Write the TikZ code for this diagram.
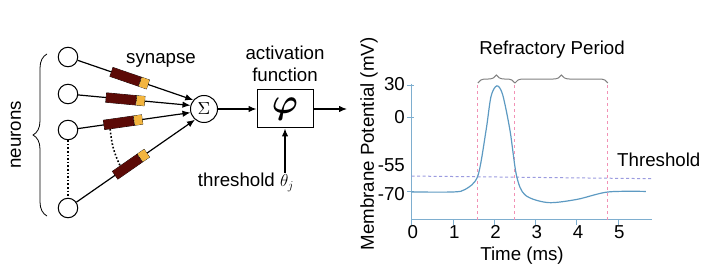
\documentclass[tikz,border=0pt]{standalone}
\usepackage{bm}
\usepackage{fontspec}
\setmainfont{Liberation Sans}
\usepackage{tikz}
\usetikzlibrary{arrows.meta,decorations.pathreplacing,calc}
\definecolor{synred}{HTML}{5C0A06}
\definecolor{synyel}{HTML}{F3B53F}
\definecolor{trace}{HTML}{5D9AC2}
\definecolor{axblue}{HTML}{7EAECF}
\definecolor{refr}{HTML}{F291B5}
\definecolor{thcol}{HTML}{9B9BDF}
\tikzset{lbl/.style={font=\fontsize{18.7}{22}\selectfont,inner sep=0pt},
  neuron/.style={circle,draw,line width=1pt,fill=white,minimum size=19.5pt,inner sep=0pt},
  wire/.style={line width=1.2pt,-{Latex[length=8pt,width=6.5pt]}},
  syn/.style={draw,line width=0.6pt,inner sep=0pt,sloped},
  dots/.style={line width=1.6pt,dotted},
  curly/.style={decorate,decoration={brace,amplitude=#1}},
  axline/.style={axblue,line width=1pt},
  refline/.style={refr,line width=1pt,dash pattern=on 3pt off 3pt}}
\newcommand{\synbox}{{\color{synred}\rule{30pt}{9.5pt}}{\color{black}\rule{0.6pt}{9.5pt}}{\color{synyel}\rule{8pt}{9.5pt}}}

\begin{document}
\begin{tikzpicture}[x=1pt,y=-1pt]
  \useasboundingbox (0,0) rectangle (703,275);
  \foreach \y [count=\i] in {57,94,130,208} \node[neuron] (n\i) at (68,\y) {};
  \node[circle,draw,line width=1pt,minimum size=27pt,inner sep=0pt] (sigma) at (204,109) {\scalebox{1.75}{$\Sigma$}};
  \node[draw,line width=1pt,minimum width=56pt,minimum height=38pt,inner sep=0pt] (box) at (285,109) {\scalebox{3.5}{$\bm{\varphi}$}};
  \foreach \i/\a/\p in {1/140/.45,2/165/.42,3/195/.40,4/230/.46}
    \draw[wire] (n\i) -- node[syn,pos=\p] (s\i) {\synbox} (sigma.\a);
  \draw[dots] (n3) -- (n4);
  \draw[dots] ($(s3.south west)!.15!(s3.south east)$) to[bend right=10] ($(s4.north west)!.25!(s4.north east)$);
  \draw[curly=14pt,line width=0.8pt] (47,216) -- (47,54);
  \node[lbl,rotate=90] (neurons) at (16,135) {neurons};
  \node[lbl,anchor=base] (synlbl) at (161,63.3) {synapse};
  \node[lbl,align=center,anchor=south,text depth=0pt] (actlbl) at (285,81.7) {activation\\function};
  \node[lbl,anchor=base] (thlbl) at (246,186.7) {threshold $\theta_j$};
  \coordinate (out) at (347,109);
  \draw[wire] (sigma) -- (box);
  \draw[wire] (box) -- (out);
  \draw[wire] (thlbl.north -| box.south) -- (box.south);
  \node[lbl,anchor=base] (rp) at (552,55) {Refractory Period};
  \node[lbl,anchor=base west] (thr) at (617,167) {Threshold};
  \node[lbl,anchor=base] (time) at (522,260) {Time (ms)};
  \node[lbl,rotate=90] (mp) at (369,144) {Membrane Potential (mV)};
  \begin{scope}[shift={(411.7,117.7)},x=41.3pt,y=1.061pt]
    \draw[axline] (0,32) -- (0,-96.4) -- (5.81,-96.4);
    \foreach \t in {0,...,5} {
      \draw[axline] (\t,-96.4) -- (\t,-101);
      \node[lbl,anchor=base] (xt\t) at (\t+0.03,-113.4) {\t};
    }
    \foreach \v/\b [count=\k] in {30/25.4,0/-5,-55/-50.9,-70/-77.6}
      \node[lbl,anchor=base east] (yt\k) at (-0.16,\b) {\v};
    \foreach \v in {30,0,-70} \draw[axline] (-0.11,\v) -- (0.06,\v);
    \draw[thcol,line width=1pt,dash pattern=on 3pt off 2.5pt] (0,-55) -- (5.83,-57.5);
    \foreach \t in {1.6,2.5,4.75} \draw[refline] (\t,-96.4) -- (\t,32.7);
    \draw[curly=8pt,gray,line width=1pt] (1.6,32.7) -- (2.5,32.7);
    \draw[curly=8pt,gray,line width=1pt] (2.5,32.7) -- (4.75,32.7);
    \draw[trace,line width=1.2pt] plot[smooth,tension=.5] coordinates {(0,-70) (1,-70) (1.3,-67.5) (1.6,-55) (1.8,-12) (1.92,20) (2.06,30) (2.2,22) (2.38,-12) (2.54,-55) (2.75,-73) (3.3,-80) (4,-77) (4.75,-70) (5.67,-69.5)};
  \end{scope}
\end{tikzpicture}
\end{document}
